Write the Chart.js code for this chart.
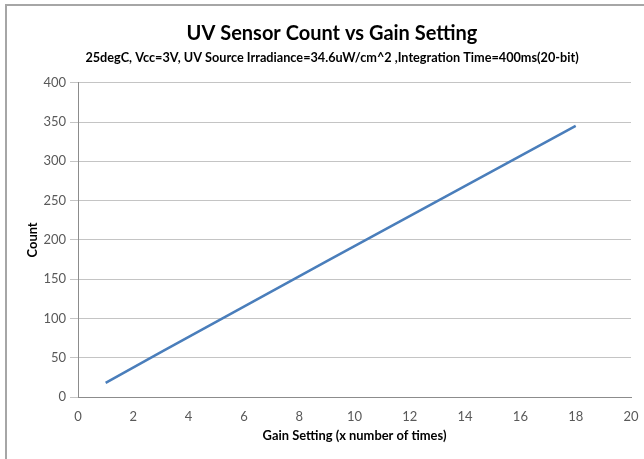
<!DOCTYPE html>
<html><head><meta charset="utf-8">
<script src="https://cdn.jsdelivr.net/npm/chart.js@4"></script>
<style>html,body{margin:0;padding:0;background:#fff}#wrap{width:644px;height:459px}</style>
</head><body><div id="wrap"><canvas id="c" width="644" height="459"></canvas></div>
<script>
const gainSetting = [1, 3, 6, 9, 18];
const uvCount = [18, 57, 115, 173, 345];
const xTicks = [0, 2, 4, 6, 8, 10, 12, 14, 16, 18, 20];
const yTicks = [0, 50, 100, 150, 200, 250, 300, 350, 400];
const titleText = 'UV Sensor Count vs Gain Setting';
const subtitleText = '25degC, Vcc=3V, UV Source Irradiance=34.6uW/cm^2 ,Integration Time=400ms(20-bit)';
const xTitle = 'Gain Setting (x number of times)';
const yTitle = 'Count';

const FONT = 'Lato, "Open Sans", sans-serif';
const frame = {
  id: 'frame',
  beforeDraw(c) { const x = c.ctx; x.save(); x.fillStyle = '#fff'; x.fillRect(0,0,c.width,c.height); x.restore(); },
  afterDraw(c) { const x = c.ctx; x.save(); x.strokeStyle = '#a6a6a6'; x.lineWidth = 2; x.strokeRect(6,5,700,500); x.restore(); }
};

new Chart(document.getElementById('c'), {
  type: 'scatter',
  data: { datasets: [{
    data: gainSetting.map((g, i) => ({ x: g, y: uvCount[i] })),
    showLine: true, borderColor: '#4a7ebb', borderWidth: 2.5, pointRadius: 0, tension: 0
  }]},
  options: {
    responsive: false, animation: false, devicePixelRatio: 1,
    layout: { padding: { left: 20, right: 0, top: 0, bottom: 0 } },
    plugins: {
      legend: { display: false }, tooltip: { enabled: false },
      title: { display: true, text: titleText, color: '#000', font: { family: FONT, size: 20, weight: 'bold', lineHeight: 1.2 }, padding: { top: 22, bottom: 0 } },
      subtitle: { display: true, text: subtitleText, color: '#000', font: { family: FONT, size: 12.7, weight: 'bold', lineHeight: 1.2 }, padding: { top: 4, bottom: 17.5 } }
    },
    scales: {
      x: {
        type: 'linear', min: 0, max: 20,
        afterBuildTicks: s => { s.ticks = xTicks.map(v => ({ value: v })); },
        afterFit: s => { s.height = 62; s.paddingRight = 13; s.paddingLeft = 0; },
        grid: { display: false },
        border: { display: true, color: '#8c8c8c', width: 1 },
        ticks: { color: '#595959', font: { family: FONT, size: 13 }, padding: 4 },
        title: { display: true, text: xTitle, color: '#000', font: { family: FONT, size: 12.9, weight: 'bold', lineHeight: 1.2 }, padding: { top: 0, bottom: 15 } }
      },
      y: {
        type: 'linear', min: 0, max: 400,
        afterBuildTicks: s => { s.ticks = yTicks.map(v => ({ value: v })); },
        afterFit: s => { s.width = 58; },
        grid: { color: '#c4c4c4', lineWidth: 1, tickLength: 8, drawTicks: true },
        border: { display: true, color: '#8c8c8c', width: 1 },
        ticks: { color: '#595959', font: { family: FONT, size: 13 }, padding: 4 },
        title: { display: true, text: yTitle, color: '#000', font: { family: FONT, size: 12.9, weight: 'bold', lineHeight: 1.2 }, padding: { top: 5.5, bottom: 0 } }
      }
    }
  },
  plugins: [frame]
});
</script>
</body></html>
